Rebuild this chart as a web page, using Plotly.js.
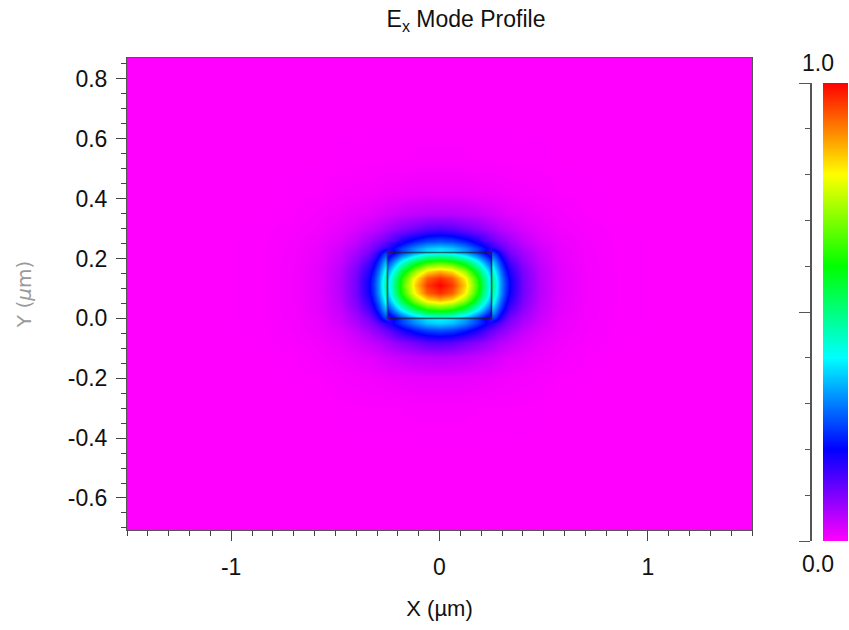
<!DOCTYPE html>
<html>
<head>
<meta charset="utf-8">
<script src="https://cdn.plot.ly/plotly-3.0.1.min.js"></script>
<style>html,body{margin:0;padding:0;background:#fff;}#chart{width:849px;height:630px;}</style>
</head>
<body>
<div id="chart"></div>
<script>
// Grid positions (µm) of the sampled field values
const xPos = [-1.5, -1.05, -0.85, -0.7, -0.58, -0.48, -0.4, -0.34, -0.315, -0.29, -0.27, -0.251, -0.249, -0.18, -0.12, -0.06, 0, 0.06, 0.12, 0.18, 0.249, 0.251, 0.27, 0.29, 0.315, 0.34, 0.4, 0.48, 0.58, 0.7, 0.85, 1.05, 1.5];
const yPos = [-0.707, -0.45, -0.3, -0.2, -0.13, -0.08, -0.04, -0.015, 0, 0.03, 0.06, 0.085, 0.11, 0.135, 0.16, 0.19, 0.22, 0.235, 0.26, 0.3, 0.35, 0.42, 0.52, 0.67, 0.87];

// |Ex| field rows (normalised)
const rowZero = [0,0,0,0,0,0,0,0,0,0,0,0,0,0,0,0,0,0,0,0,0,0,0,0,0,0,0,0,0,0,0,0,0];
const rowD41  = [0,0,0,0,0,.001,.001,.002,.002,.002,.002,.002,.002,.002,.003,.003,.003,.003,.003,.002,.002,.002,.002,.002,.002,.002,.001,.001,0,0,0,0,0];
const rowD31  = [0,0,0,.001,.002,.005,.007,.008,.009,.01,.011,.012,.012,.014,.016,.017,.017,.017,.016,.014,.012,.012,.011,.01,.009,.008,.007,.005,.002,.001,0,0,0];
const rowD24  = [0,0,0,.002,.006,.011,.017,.021,.024,.028,.032,.035,.035,.044,.05,.054,.055,.054,.05,.044,.035,.035,.032,.028,.024,.021,.017,.011,.006,.002,0,0,0];
const rowD19  = [0,0,.001,.004,.009,.018,.031,.045,.051,.056,.065,.072,.073,.096,.112,.132,.138,.132,.112,.096,.073,.072,.065,.056,.051,.045,.031,.018,.009,.004,.001,0,0];
const rowD15  = [0,0,.001,.006,.014,.027,.048,.073,.086,.098,.108,.123,.124,.181,.222,.252,.263,.252,.222,.181,.124,.123,.108,.098,.086,.073,.048,.027,.014,.006,.001,0,0];
const rowD125 = [0,0,.002,.006,.016,.035,.061,.095,.109,.134,.155,.174,.176,.249,.309,.354,.37,.354,.309,.249,.176,.174,.155,.134,.109,.095,.061,.035,.016,.006,.002,0,0];
const rowD11  = [0,0,.002,.007,.017,.039,.071,.107,.139,.183,.226,.262,.152,.258,.334,.383,.40,.383,.334,.258,.152,.262,.226,.183,.139,.107,.071,.039,.017,.007,.002,0,0];
const rowD08  = [0,0,.002,.007,.02,.046,.089,.144,.187,.246,.31,.364,.247,.421,.544,.624,.651,.624,.544,.421,.247,.364,.31,.246,.187,.144,.089,.046,.02,.007,.002,0,0];
const rowD05  = [0,0,.002,.008,.021,.052,.102,.174,.224,.297,.372,.444,.326,.554,.717,.822,.858,.822,.717,.554,.326,.444,.372,.297,.224,.174,.102,.052,.021,.008,.002,0,0];
const rowD025 = [0,0,.002,.008,.022,.054,.108,.189,.245,.322,.408,.484,.366,.623,.806,.924,.964,.924,.806,.623,.366,.484,.408,.322,.245,.189,.108,.054,.022,.008,.002,0,0];
const rowD0   = [0,0,.002,.008,.022,.055,.11,.194,.252,.33,.42,.50,.38,.646,.836,.958,1,.958,.836,.646,.38,.50,.42,.33,.252,.194,.11,.055,.022,.008,.002,0,0];

const fieldRows = [rowZero, rowZero, rowD41, rowD31, rowD24, rowD19, rowD15, rowD125, rowD11, rowD08, rowD05, rowD025, rowD0,
                   rowD025, rowD05, rowD08, rowD11, rowD125, rowD15, rowD19, rowD24, rowD31, rowD41, rowZero, rowZero];

// Waveguide core outline (µm)
const coreX = [-0.25, 0.25, 0.25, -0.25, -0.25];
const coreY = [0, 0, 0.22, 0.22, 0];

// Tick labels
const xTickVals = [-1, 0, 1];
const xTickText = ['-1', '0', '1'];
const yTickVals = [-0.6, -0.4, -0.2, 0, 0.2, 0.4, 0.6, 0.8];
const yTickText = ['-0.6', '-0.4', '-0.2', '0.0', '0.2', '0.4', '0.6', '0.8'];
const cbarLabels = ['1.0', '0.0'];

const colorscale = [[0,'#ff00ff'],[0.2,'#0000ff'],[0.4,'#00ffff'],[0.6,'#00ff00'],[0.8,'#ffff00'],[1,'#ff0000']];

const FONT = '"Liberation Sans", Arial, sans-serif';
const W = 849, H = 630, ML = 127, MT = 58, MB = 89, MR = 0;
const PW = W - ML - MR, PH = H - MT - MB;
const px2fx = p => (p - ML) / PW;
const px2fy = p => (H - MB - p) / PH;

const traces = [
  {
    type: 'heatmap', x: xPos, y: yPos, z: fieldRows,
    zmin: 0, zmax: 1, zsmooth: 'best', colorscale: colorscale,
    hoverinfo: 'skip',
    colorbar: {
      x: px2fx(823), xanchor: 'left', xpad: 0,
      y: px2fy(312), yanchor: 'middle', ypad: 0,
      len: 458, lenmode: 'pixels', thickness: 25, thicknessmode: 'pixels',
      outlinewidth: 0, ticks: '', showticklabels: false
    }
  },
  {
    type: 'scatter', mode: 'lines', x: coreX, y: coreY,
    line: {color: 'rgba(30,30,30,0.65)', width: 1.6},
    hoverinfo: 'skip', showlegend: false
  },
  {
    type: 'scatter', mode: 'lines', x: [], y: [], xaxis: 'x2', yaxis: 'y2',
    hoverinfo: 'skip', showlegend: false
  }
];

const layout = {
  width: W, height: H,
  margin: {l: ML, r: MR, t: MT, b: MB, autoexpand: false},
  paper_bgcolor: '#ffffff', plot_bgcolor: '#ffffff',
  font: {family: FONT, size: 22, color: '#111'},
  showlegend: false,
  title: {text: 'E<sub>x</sub> Mode Profile', font: {family: FONT, size: 23, color: '#111'},
          x: px2fx(466), xref: 'paper', xanchor: 'center', y: 1 - 19 / H, yref: 'container', yanchor: 'middle'},
  xaxis: {
    domain: [0, px2fx(752)], range: [-1.5, 1.5], tickmode: 'array', tickvals: xTickVals, ticktext: xTickText,
    ticks: 'outside', ticklen: 10, tickwidth: 1, tickcolor: '#444', ticklabelstandoff: 6,
    minor: {dtick: 0.1, tick0: 0, ticks: 'outside', ticklen: 5, tickcolor: '#444'},
    showline: true, linecolor: '#555', linewidth: 1, mirror: true,
    showgrid: false, zeroline: false,
    tickfont: {family: FONT, size: 23, color: '#111'},
    title: {text: 'X (µm)', font: {family: FONT, size: 22, color: '#111'}, standoff: 22},
    automargin: false
  },
  yaxis: {
    domain: [px2fy(530), 1], range: [-0.707, 0.87], tickmode: 'array', tickvals: yTickVals, ticktext: yTickText,
    ticks: 'outside', ticklen: 10, tickwidth: 1, tickcolor: '#444', ticklabelstandoff: 4,
    minor: {dtick: 0.05, tick0: 0, ticks: 'outside', ticklen: 5, tickcolor: '#444'},
    showline: true, linecolor: '#555', linewidth: 1, mirror: true,
    showgrid: false, zeroline: false,
    tickfont: {family: FONT, size: 23, color: '#111'},
    title: {text: 'Y (<i>µ</i>m)', font: {family: '"DejaVu Sans", sans-serif', size: 20, color: '#999'}, standoff: 30},
    automargin: false
  },
  xaxis2: {domain: [px2fx(811.5), px2fx(815)], anchor: 'y2', visible: false, range: [0, 1]},
  yaxis2: {
    domain: [0, px2fy(83)], anchor: 'x2', range: [0, 1], side: 'left',
    dtick: 0.5, tick0: 0, ticks: 'outside', ticklen: 11, tickcolor: '#555',
    minor: {dtick: 0.1, tick0: 0, ticks: 'outside', ticklen: 5, tickcolor: '#555'},
    showticklabels: false, showline: true, linecolor: '#555', linewidth: 1.5,
    showgrid: false, zeroline: false
  },
  annotations: [
    {text: cbarLabels[0], xref: 'paper', yref: 'paper', x: px2fx(818), y: px2fy(63), showarrow: false,
     xanchor: 'center', yanchor: 'middle', font: {family: FONT, size: 23, color: '#111'}},
    {text: cbarLabels[1], xref: 'paper', yref: 'paper', x: px2fx(818), y: px2fy(564), showarrow: false,
     xanchor: 'center', yanchor: 'middle', font: {family: FONT, size: 23, color: '#111'}}
  ]
};

Plotly.newPlot('chart', traces, layout, {displayModeBar: false, staticPlot: true});
</script>
</body>
</html>
